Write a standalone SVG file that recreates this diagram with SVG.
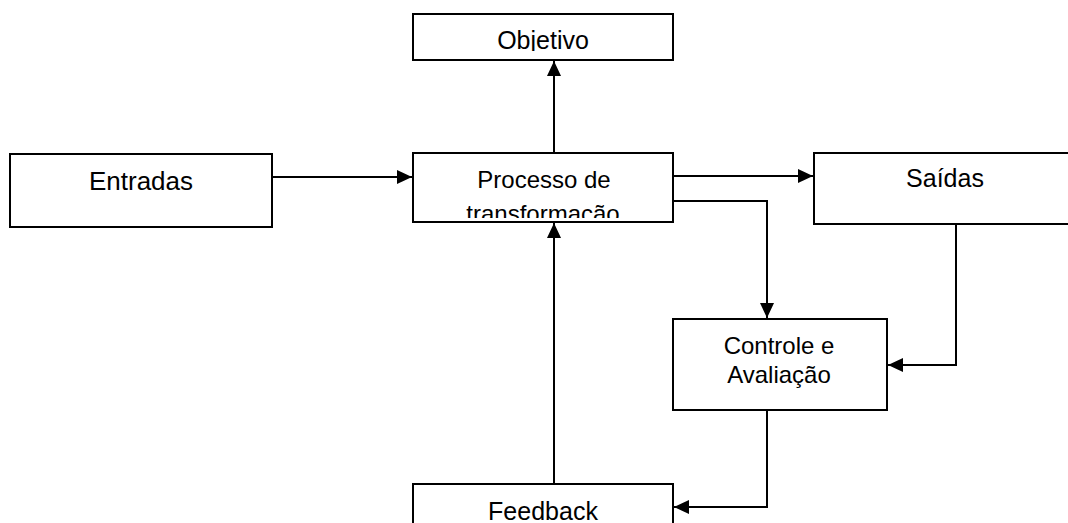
<svg xmlns="http://www.w3.org/2000/svg" width="1068" height="523" viewBox="0 0 1068 523">
  <style>
    .box { fill: #fff; stroke: #000; stroke-width: 2; }
    .lbl { font-family: "Liberation Sans", Arial, sans-serif; font-size: 25px; fill: #000; text-anchor: middle; }
    .con { fill: none; stroke: #000; stroke-width: 2; }
  </style>
  <defs>
    <marker id="arr" markerWidth="16" markerHeight="16" refX="15" refY="8" orient="auto" markerUnits="userSpaceOnUse">
      <path d="M0,1 L15,8 L0,15 Z" fill="#000"/>
    </marker>
    <clipPath id="clipObj"><rect x="413" y="14" width="260" height="37"/></clipPath>
    <clipPath id="clipProc"><rect x="413" y="153" width="260" height="65"/></clipPath>
  </defs>
  <rect width="1068" height="523" fill="#fff"/>

  <g id="connectors">
    <line class="con" x1="272" y1="177" x2="412" y2="177" marker-end="url(#arr)"/>
    <line class="con" x1="554" y1="153" x2="554" y2="61" marker-end="url(#arr)"/>
    <line class="con" x1="673" y1="176" x2="813" y2="176" marker-end="url(#arr)"/>
    <polyline class="con" points="673,201 767,201 767,318" marker-end="url(#arr)"/>
    <polyline class="con" points="956,224 956,365 888,365" marker-end="url(#arr)"/>
    <polyline class="con" points="767,410 767,507 674,507" marker-end="url(#arr)"/>
    <line class="con" x1="554" y1="484" x2="554" y2="223" marker-end="url(#arr)"/>
  </g>

  <g id="node-objetivo">
    <rect class="box" x="413" y="14" width="260" height="46"/>
    <text class="lbl" x="543" y="49" clip-path="url(#clipObj)">Objetivo</text>
  </g>
  <g id="node-entradas">
    <rect class="box" x="10" y="154" width="262" height="73"/>
    <text class="lbl" x="141" y="190" style="font-size:26px">Entradas</text>
  </g>
  <g id="node-processo">
    <rect class="box" x="413" y="153" width="260" height="69"/>
    <g clip-path="url(#clipProc)">
      <text class="lbl" x="544" y="188" style="font-size:24px">Processo de</text>
      <text class="lbl" x="543" y="222" style="font-size:24px">transformação</text>
    </g>
  </g>
  <g id="node-saidas">
    <rect class="box" x="814" y="153" width="270" height="71"/>
    <text class="lbl" x="945" y="187">Saídas</text>
  </g>
  <g id="node-controle">
    <rect class="box" x="673" y="319" width="214" height="91"/>
    <text class="lbl" x="779" y="354" style="font-size:24px">Controle e</text>
    <text class="lbl" x="779" y="383" style="font-size:24px">Avaliação</text>
  </g>
  <g id="node-feedback">
    <rect class="box" x="413" y="484" width="260" height="60"/>
    <text class="lbl" x="543" y="520">Feedback</text>
  </g>
</svg>
